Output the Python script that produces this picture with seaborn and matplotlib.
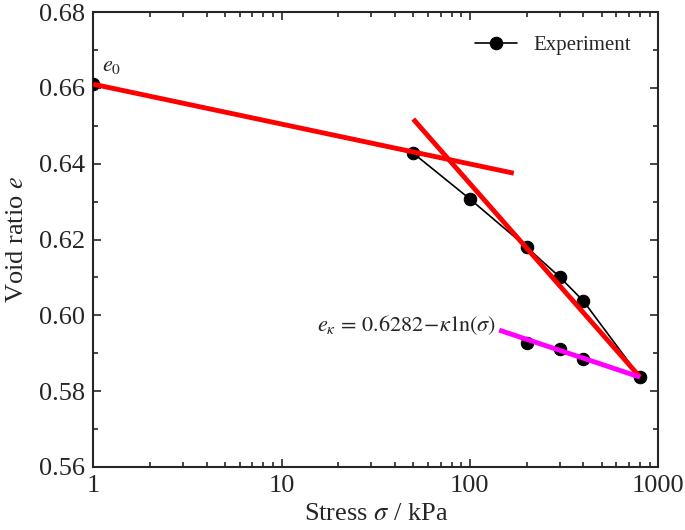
import numpy as np
import pandas as pd
import matplotlib
matplotlib.use("Agg")
import matplotlib.pyplot as plt
import seaborn as sns

load_stress = [1, 50, 100, 200, 300, 400, 800]
load_void = [0.661, 0.6428, 0.6307, 0.6180, 0.6101, 0.6038, 0.5837]
unload_stress = [200, 300, 400]
unload_void = [0.5927, 0.5911, 0.5885]

# Fitted straight lines (endpoints)
fit1_stress = [1, 171]
fit1_void = [0.661, 0.6375]
fit2_stress = [50, 800]
fit2_void = [0.6518, 0.5837]
kappa_stress = [143, 800]
kappa_void = [0.5961, 0.5837]

sns.set_style("ticks")
plt.rcParams["font.family"] = ["Liberation Serif", "DejaVu Serif"]
plt.rcParams["mathtext.fontset"] = "stix"

fig = plt.figure(figsize=(6.85, 5.3), dpi=100)
ax = fig.add_axes([0.136, 0.119, 0.825, 0.858])

load_df = pd.DataFrame({"stress": load_stress, "void": load_void})
unload_df = pd.DataFrame({"stress": unload_stress, "void": unload_void})

sns.lineplot(data=load_df, x="stress", y="void", ax=ax, color="black",
             linewidth=1.2, marker="o", markersize=9, markeredgecolor="black",
             label="Experiment", zorder=3, sort=False)
sns.scatterplot(data=unload_df, x="stress", y="void", ax=ax, color="black",
                s=80, edgecolor="black", zorder=3, legend=False)

ax.plot(fit1_stress, fit1_void, color="red", linewidth=3.5, zorder=4,
        solid_capstyle="butt")
ax.plot(fit2_stress, fit2_void, color="red", linewidth=3.5, zorder=4,
        solid_capstyle="butt")
ax.plot(kappa_stress, kappa_void, color="magenta", linewidth=3.5, zorder=4,
        solid_capstyle="butt")

ax.set_xscale("log")
ax.set_xlim(1, 1000)
ax.set_ylim(0.56, 0.68)
ax.set_yticks(np.arange(0.56, 0.681, 0.02))
ax.set_yticks(np.arange(0.57, 0.68, 0.02), minor=True)
ax.set_xticks([1, 10, 100, 1000])
ax.set_xticklabels(["1", "10", "100", "1000"])
ax.yaxis.set_major_formatter(matplotlib.ticker.FormatStrFormatter("%.2f"))

ax.tick_params(which="both", direction="in", top=True, right=True,
               labelsize=19, width=1.2, pad=6)
ax.tick_params(which="major", length=6)
ax.tick_params(which="minor", length=3.5)
for sp in ax.spines.values():
    sp.set_linewidth(1.5)
    sp.set_visible(True)

ax.set_xlabel(r"Stress $\sigma$ / kPa", fontsize=19, labelpad=4)
ax.set_ylabel(r"Void ratio $e$", fontsize=19, labelpad=8)

ax.text(1.12, 0.6632, r"$e_0$", fontsize=16, va="bottom", ha="left")
ax.text(137, 0.5975, r"$e_\kappa\,=\,0.6282\!-\!\kappa\,\ln(\sigma)$",
        fontsize=16, ha="right", va="center")

ax.legend(loc="upper right", frameon=False, fontsize=15,
          handlelength=2.0, bbox_to_anchor=(0.985, 0.99))

fig.savefig("out.png", dpi=100)
